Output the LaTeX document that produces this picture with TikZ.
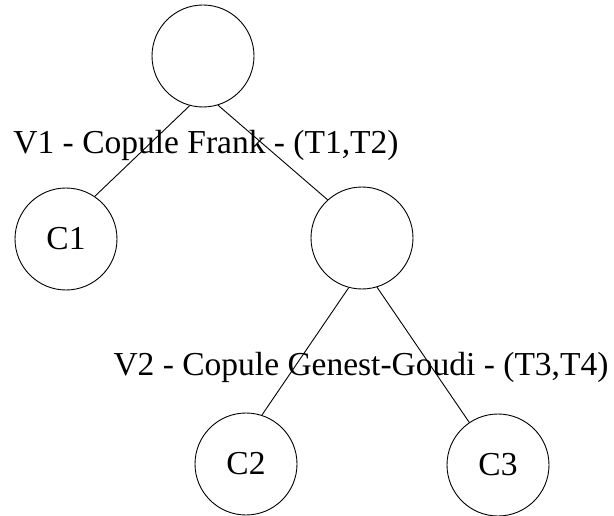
\documentclass[tikz,border=0pt]{standalone}
\usepackage{fontspec}
\setmainfont{Liberation Serif}
\usepackage{tikz}
\usetikzlibrary{positioning}

\begin{document}
\begin{tikzpicture}[
  x=1pt, y=-1pt,
  vertex/.style={circle, draw, line width=0.9pt, minimum size=102pt, inner sep=0pt, font=\fontsize{33.5}{40}\selectfont},
  lbl/.style={inner sep=0pt, anchor=base, font=\fontsize{33.5}{40}\selectfont},
  link/.style={line width=0.9pt}
]
  \useasboundingbox (0,0) rectangle (614,516);

  \node[vertex] (root) at (203,56) {};
  \node[vertex] (c1) at (66,239) {C1};
  \node[vertex] (mid) at (362,238) {};
  \node[vertex] (c2) at (246,464) {C2};
  \node[vertex] (c3) at (498,465) {C3};

  \node[lbl] (v1) at (206,154) {V1 - Copule Frank - (T1,T2)};
  \node[lbl] (v2) at (361,375) {V2 - Copule Genest-Goudi - (T3,T4)};

  % edges leave near the bottom of the parent
  \draw[link] (root.255) -- (c1.56);
  \draw[link] (root.287) -- (mid.132);
  \draw[link] (mid.255) -- (c2.72);
  \draw[link] (mid.287) -- (c3.124);
\end{tikzpicture}
\end{document}
